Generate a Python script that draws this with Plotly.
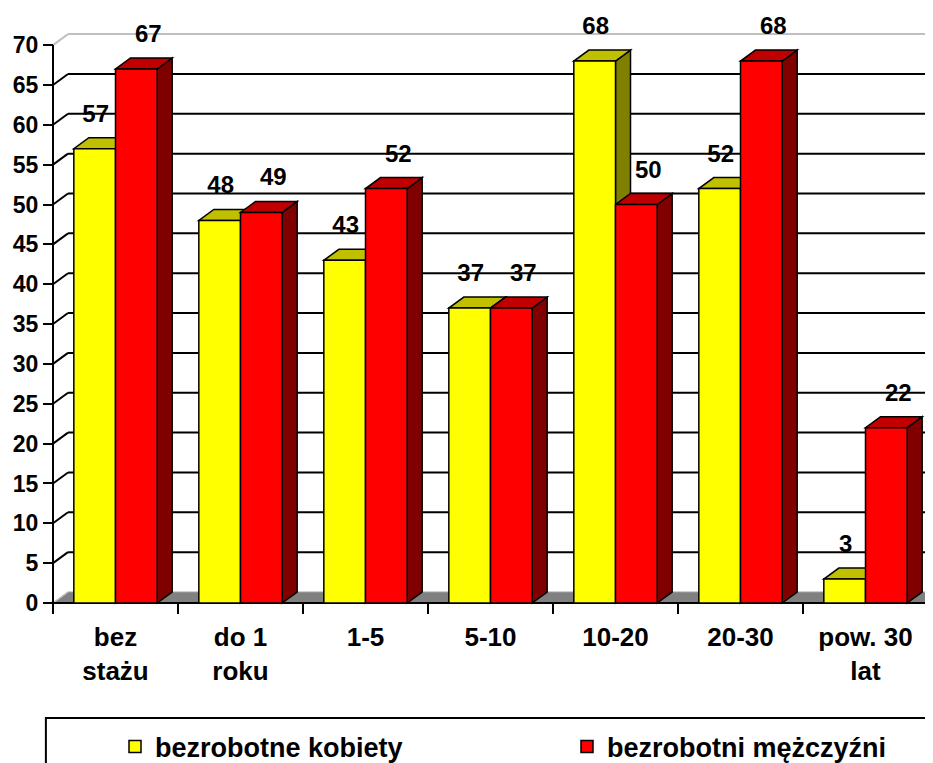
import plotly.graph_objects as go

# ---------------- data ----------------
categories = ["bez<br>stażu", "do 1<br>roku", "1-5", "5-10", "10-20", "20-30", "pow. 30<br>lat"]
kobiety = [57, 48, 43, 37, 68, 52, 3]
mezczyzni = [67, 49, 52, 37, 50, 68, 22]
y_ticks = [0, 5, 10, 15, 20, 25, 30, 35, 40, 45, 50, 55, 60, 65, 70]
series_names = ["bezrobotne kobiety", "bezrobotni mężczyźni"]

# ---------------- layout geometry (page pixels) ----------------
OFF = 8                                # default body margin of the html page
PAGE_W, PAGE_H = 933, 763
W, H = PAGE_W - OFF, PAGE_H - OFF      # figure size
PL, PR, PT, PB = 45, 933, 28, 608      # plot area (page pixels)
X0_PX, Y0_PX = 53, 603                 # front origin of the 3D box
PX_PER_CAT = 125.0
PX_PER_UNIT = 7.97
DEPTH_X_PX, DEPTH_Y_PX = 15, 11
LABEL_GAP_PX = 22

xr = [-0.5 - (X0_PX - PL) / PX_PER_CAT, -0.5 + (PR - X0_PX) / PX_PER_CAT]
yr = [-(PB - Y0_PX) / PX_PER_UNIT, (Y0_PX - PT) / PX_PER_UNIT]
DX = DEPTH_X_PX / PX_PER_CAT
DY = DEPTH_Y_PX / PX_PER_UNIT
BAR_W = 1 / 3
YMAX = y_ticks[-1]
n = len(categories)
idx = list(range(n))

FONT = "Arial, Liberation Sans, sans-serif"
YEL, YEL_TOP, YEL_SIDE = "#FFFF00", "#C0C000", "#808000"
RED, RED_TOP, RED_SIDE = "#FF0000", "#C00000", "#800000"


def path(pts):
    return "M " + " L ".join(f"{x},{y}" for x, y in pts) + " Z"


shapes = []
# floor
shapes.append(dict(type="path", xref="x", yref="y", layer="below",
                   path=path([(-0.5, 0), (n - 0.5, 0), (n - 0.5 + DX, DY), (-0.5 + DX, DY)]),
                   fillcolor="#808080", line=dict(color="#A0A0A0", width=1)))
# back-wall gridlines and left-wall diagonals
for t in y_ticks[1:]:
    col = "#C0C0C0" if t == YMAX else "black"
    shapes.append(dict(type="line", xref="x", yref="y", layer="below",
                       x0=-0.5 + DX, x1=n + 1, y0=t + DY, y1=t + DY,
                       line=dict(color=col, width=2)))
    shapes.append(dict(type="line", xref="x", yref="y", layer="below",
                       x0=-0.5, x1=-0.5 + DX, y0=t, y1=t + DY,
                       line=dict(color=col, width=2)))
# left wall bottom edge
shapes.append(dict(type="line", xref="x", yref="y", layer="below",
                   x0=-0.5, x1=-0.5 + DX, y0=0, y1=DY,
                   line=dict(color="#C0C0C0", width=1.5)))
# front axis lines
shapes.append(dict(type="line", xref="x", yref="y", layer="below",
                   x0=-0.5, x1=-0.5, y0=0, y1=YMAX, line=dict(color="black", width=2)))
shapes.append(dict(type="line", xref="x", yref="y", layer="below",
                   x0=-0.5, x1=n - 0.5, y0=0, y1=0, line=dict(color="black", width=2)))

# 3D faces of bars (side + top), painter's order
for i in idx:
    for vals, off, top_c, side_c in ((kobiety, -BAR_W, YEL_TOP, YEL_SIDE),
                                     (mezczyzni, 0.0, RED_TOP, RED_SIDE)):
        v = vals[i]
        x0 = i + off
        x1 = x0 + BAR_W
        shapes.append(dict(type="path", xref="x", yref="y", layer="below",
                           path=path([(x1, 0), (x1 + DX, DY), (x1 + DX, v + DY), (x1, v)]),
                           fillcolor=side_c, line=dict(color="black", width=1.5)))
        shapes.append(dict(type="path", xref="x", yref="y", layer="below",
                           path=path([(x0, v), (x1, v), (x1 + DX, v + DY), (x0 + DX, v + DY)]),
                           fillcolor=top_c, line=dict(color="black", width=1.5)))

# legend frame (cut by page edge like the reference)
shapes.append(dict(type="rect", xref="paper", yref="paper", layer="above",
                   x0=(45 - PL) / (PR - PL) + 0.001, x1=1.05,
                   y0=(PB - 718) / (PB - PT), y1=-0.6,
                   line=dict(color="black", width=2), fillcolor="rgba(0,0,0,0)"))

fig = go.Figure()
fig.add_trace(go.Bar(x=idx, y=kobiety, name=series_names[0], offsetgroup="k",
                     marker=dict(color=YEL, line=dict(color="black", width=1.5)),
                     legend="legend", hoverinfo="y"))
fig.add_trace(go.Bar(x=idx, y=mezczyzni, name=series_names[1], offsetgroup="m",
                     marker=dict(color=RED, line=dict(color="black", width=1.5)),
                     legend="legend2", hoverinfo="y"))

# value labels
gap = LABEL_GAP_PX / PX_PER_UNIT
lab_font = dict(family=FONT, size=24, color="black", weight="bold")
fig.add_trace(go.Scatter(x=[i - BAR_W / 2 + 1 / PX_PER_CAT for i in idx],
                         y=[v + DY + gap for v in kobiety],
                         text=[str(v) for v in kobiety], mode="text",
                         textposition="middle center", showlegend=False, cliponaxis=False,
                         textfont=lab_font, hoverinfo="skip"))
fig.add_trace(go.Scatter(x=[i + BAR_W / 2 + 12 / PX_PER_CAT for i in idx],
                         y=[v + DY + gap for v in mezczyzni],
                         text=[str(v) for v in mezczyzni], mode="text",
                         textposition="middle center", showlegend=False, cliponaxis=False,
                         textfont=lab_font, hoverinfo="skip"))

legend_font = dict(family=FONT, size=27, color="black", weight="bold")
leg_y = 1 - (747 - OFF) / H
fig.update_layout(
    template="none",
    width=W, height=H,
    margin=dict(l=PL - OFF, r=PAGE_W - PR, t=PT - OFF, b=PAGE_H - PB, pad=0, autoexpand=False),
    paper_bgcolor="white", plot_bgcolor="white",
    barmode="group", bargap=1 / 3, bargroupgap=0,
    shapes=shapes,
    font=dict(family=FONT, color="black"),
    legend=dict(xref="container", yref="container", x=(115 - OFF) / W, y=leg_y,
                xanchor="left", yanchor="middle",
                orientation="h", font=legend_font, bgcolor="rgba(0,0,0,0)", borderwidth=0),
    legend2=dict(xref="container", yref="container", x=(567 - OFF) / W, y=leg_y,
                 xanchor="left", yanchor="middle",
                 orientation="h", font=legend_font, bgcolor="rgba(0,0,0,0)", borderwidth=0),
    xaxis=dict(type="linear", range=xr, tickmode="array", tickvals=idx, ticktext=categories,
               ticks="", showgrid=False, zeroline=False, showline=False, automargin=False,
               anchor="free", position=(PB - Y0_PX) / (PB - PT),
               tickfont=dict(family=FONT, size=26, color="black", weight="bold"),
               ticklabelstandoff=16,
               minor=dict(tickmode="array", tickvals=[i - 0.5 for i in range(n + 1)],
                          ticks="outside", ticklen=10, tickwidth=2, tickcolor="black",
                          showgrid=False)),
    yaxis=dict(range=yr, tickmode="array", tickvals=y_ticks, ticks="outside",
               ticklen=10, tickwidth=2, tickcolor="black", automargin=False,
               showgrid=False, zeroline=False, showline=False,
               anchor="free", position=(X0_PX - PL) / (PR - PL),
               tickfont=dict(family=FONT, size=23, color="black", weight="bold"),
               ticklabelstandoff=0),
)

fig.write_html("out.html")
